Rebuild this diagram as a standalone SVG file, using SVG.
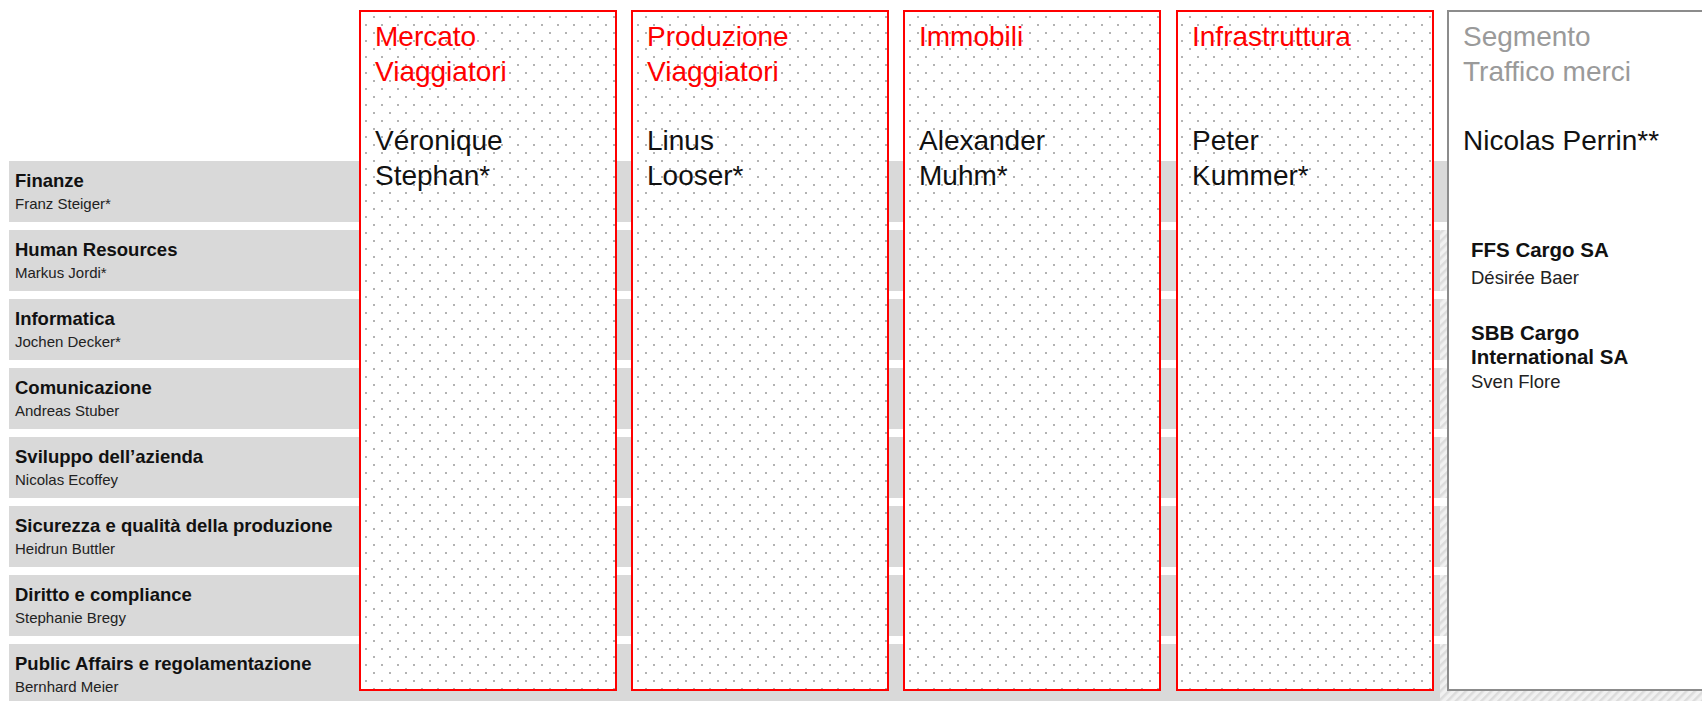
<svg xmlns="http://www.w3.org/2000/svg" width="1702" height="701" viewBox="0 0 1702 701">
<defs>
<pattern id="dots" patternUnits="userSpaceOnUse" x="5" y="0" width="16" height="16">
<rect width="16" height="16" fill="#fff"/>
<rect x="0" y="0" width="2" height="2" fill="#b3b3b3"/>
<rect x="8" y="8" width="2" height="2" fill="#b3b3b3"/>
</pattern>
<pattern id="hatch" patternUnits="userSpaceOnUse" width="6" height="6" patternTransform="rotate(45)">
<rect width="6" height="6" fill="#f1f1f1"/>
<rect x="0" y="0" width="2.5" height="6" fill="#dcdcdc"/>
</pattern>
</defs>
<style>
.bar{fill:#d9d9d9}
.hat{fill:url(#hatch)}
.lb{font-family:"Liberation Sans",Arial,sans-serif;font-weight:bold;font-size:18.5px;fill:#111}
.lr{font-family:"Liberation Sans",Arial,sans-serif;font-size:15px;fill:#222}
.box{fill:url(#dots);stroke:#ff0000;stroke-width:2}
.seg{fill:#fff;stroke:#8c8c8c;stroke-width:2}
.ht{font-family:"Liberation Sans",Arial,sans-serif;font-size:28px;fill:#ff0000}
.hg{font-family:"Liberation Sans",Arial,sans-serif;font-size:28px;fill:#9a9a9a}
.nm{font-family:"Liberation Sans",Arial,sans-serif;font-size:28px;fill:#111}
.rb{font-family:"Liberation Sans",Arial,sans-serif;font-weight:bold;font-size:20.5px;fill:#111}
.rr{font-family:"Liberation Sans",Arial,sans-serif;font-size:18.5px;fill:#222}
</style>
<g id="bars">
<g id="bar-finanze"><rect class="bar" x="9" y="161" width="1438" height="61"/><text class="lb" x="15" y="187">Finanze</text><text class="lr" x="15" y="209">Franz Steiger*</text></g>
<g id="bar-hr"><rect class="bar" x="9" y="230" width="1431" height="61"/><rect class="hat" x="1440" y="230" width="262" height="61"/><text class="lb" x="15" y="256">Human Resources</text><text class="lr" x="15" y="278">Markus Jordi*</text></g>
<g id="bar-it"><rect class="bar" x="9" y="299" width="1431" height="61"/><rect class="hat" x="1440" y="299" width="262" height="61"/><text class="lb" x="15" y="325">Informatica</text><text class="lr" x="15" y="347">Jochen Decker*</text></g>
<g id="bar-com"><rect class="bar" x="9" y="368" width="1431" height="61"/><rect class="hat" x="1440" y="368" width="262" height="61"/><text class="lb" x="15" y="394">Comunicazione</text><text class="lr" x="15" y="416">Andreas Stuber</text></g>
<g id="bar-svil"><rect class="bar" x="9" y="437" width="1431" height="61"/><rect class="hat" x="1440" y="437" width="262" height="61"/><text class="lb" x="15" y="463">Sviluppo dell’azienda</text><text class="lr" x="15" y="485">Nicolas Ecoffey</text></g>
<g id="bar-sic"><rect class="bar" x="9" y="506" width="1431" height="61"/><rect class="hat" x="1440" y="506" width="262" height="61"/><text class="lb" x="15" y="532">Sicurezza e qualità della produzione</text><text class="lr" x="15" y="554">Heidrun Buttler</text></g>
<g id="bar-dir"><rect class="bar" x="9" y="575" width="1431" height="61"/><rect class="hat" x="1440" y="575" width="262" height="61"/><text class="lb" x="15" y="601">Diritto e compliance</text><text class="lr" x="15" y="623">Stephanie Bregy</text></g>
<g id="bar-pa"><rect class="bar" x="9" y="644" width="1431" height="57"/><rect class="hat" x="1440" y="644" width="262" height="57"/><text class="lb" x="15" y="670">Public Affairs e regolamentazione</text><text class="lr" x="15" y="692">Bernhard Meier</text></g>
</g>
<g id="connectors"/>
<g id="mercato"><rect class="box" x="360" y="11" width="256" height="679"/><text class="ht" x="375" y="46">Mercato</text><text class="ht" x="375" y="81">Viaggiatori</text><text class="nm" x="375" y="150">Véronique</text><text class="nm" x="375" y="185">Stephan*</text></g>
<g id="produzione"><rect class="box" x="632" y="11" width="256" height="679"/><text class="ht" x="647" y="46">Produzione</text><text class="ht" x="647" y="81">Viaggiatori</text><text class="nm" x="647" y="150">Linus</text><text class="nm" x="647" y="185">Looser*</text></g>
<g id="immobili"><rect class="box" x="904" y="11" width="256" height="679"/><text class="ht" x="919" y="46">Immobili</text><text class="nm" x="919" y="150">Alexander</text><text class="nm" x="919" y="185">Muhm*</text></g>
<g id="infrastruttura"><rect class="box" x="1177" y="11" width="256" height="679"/><text class="ht" x="1192" y="46">Infrastruttura</text><text class="nm" x="1192" y="150">Peter</text><text class="nm" x="1192" y="185">Kummer*</text></g>
<g id="segmento"><rect class="seg" x="1448" y="11" width="270" height="679"/><text class="hg" x="1463" y="46">Segmento</text><text class="hg" x="1463" y="81">Traffico merci</text><text class="nm" x="1463" y="150">Nicolas Perrin**</text>
<text class="rb" x="1471" y="257">FFS Cargo SA</text><text class="rr" x="1471" y="284">Désirée Baer</text>
<text class="rb" x="1471" y="340">SBB Cargo</text><text class="rb" x="1471" y="364">International SA</text><text class="rr" x="1471" y="388">Sven Flore</text></g>
</svg>
